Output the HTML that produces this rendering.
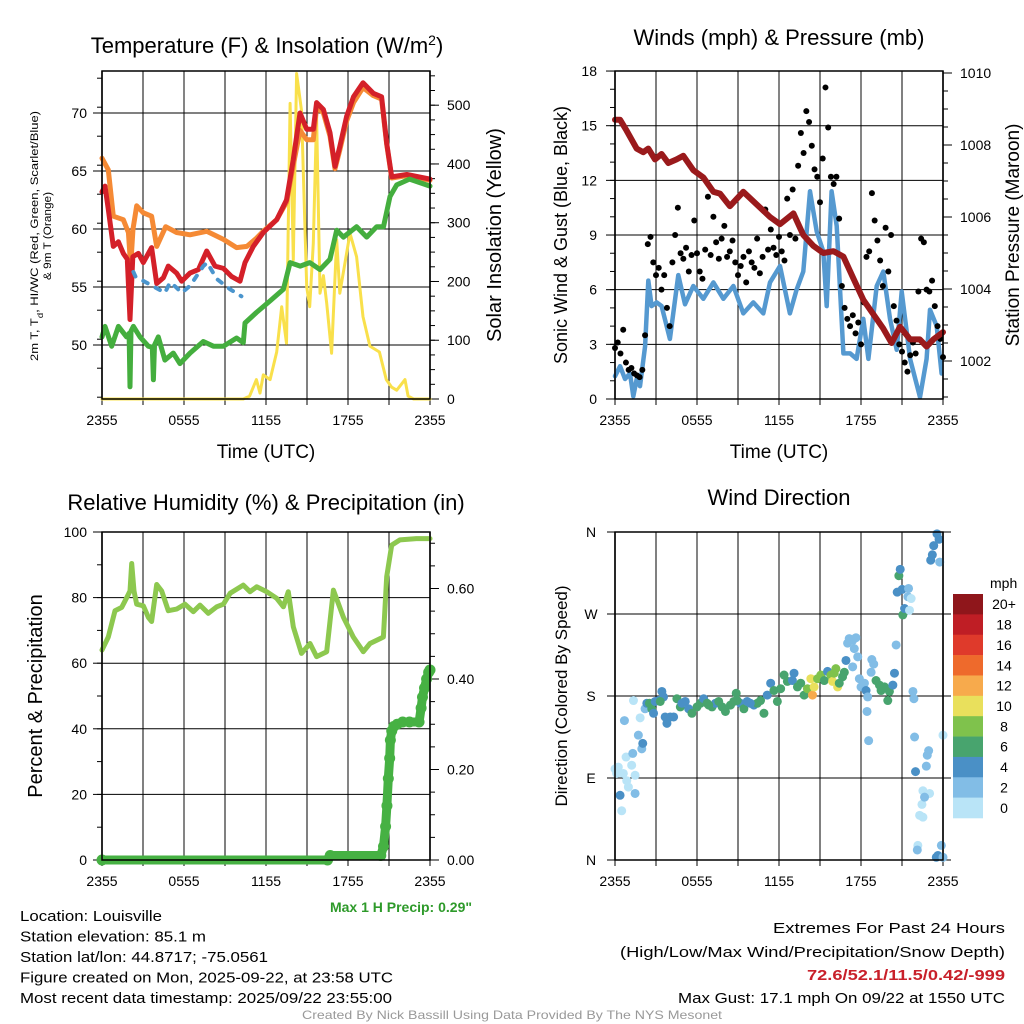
<!DOCTYPE html>
<html><head><meta charset="utf-8">
<style>
html,body{margin:0;padding:0;background:#fff;}
svg{display:block;font-family:"Liberation Sans",Arial,sans-serif;}
</style></head>
<body>
<svg id="fig" width="1024" height="1024" viewBox="0 0 1024 1024" xmlns="http://www.w3.org/2000/svg"></svg>
<script>
// ===== Panel 1: temperature (times in hours since 2355) =====
const tempT = [0,0.22,0.46,0.83,1.2,1.56,1.85,2.05,2.25,2.66,3.02,3.63,4.0,4.49,4.85,5.46,5.83,6.44,7.05,7.66,8.27,8.88,9.49,10.1,10.46,11.07,11.8,12.78,13.5,14.0,14.49,14.98,15.46,15.7,16.2,16.68,17.05,17.4,17.9,18.4,19.1,19.85,20.46,20.83,21.2,22.3,24];
const tempV = [63.2,63.7,61.7,58.5,58.9,57.9,57.4,52.2,57.6,57.9,57.1,58.4,55.3,55.8,56.8,56.2,55.5,56.2,56.5,58.1,56.8,56.6,55.9,55.5,57.1,58.5,59.7,60.8,62.5,66.0,70.0,68.6,68.6,70.9,70.3,68.3,65.4,67.1,69.7,71.4,72.6,71.7,71.4,67.4,64.5,64.7,64.3];
const t9T = [0,0.46,0.83,1.56,1.93,2.1,2.27,2.54,3.02,3.63,4.0,4.66,5.46,6.44,7.66,8.88,9.85,10.6,11.3,11.8,12.78,13.5,14.0,14.49,14.98,15.46,15.7,16.2,16.68,17.05,17.4,17.9,18.4,19.1,19.85,20.46,20.83,21.2,22.3,24];
const t9V = [66.1,65.1,61.1,60.8,59.7,56.8,60,62.0,61.4,61.1,58.5,60.2,59.7,59.5,59.8,59.1,58.4,58.5,59.2,59.8,60.8,62.3,65.5,68.5,67.7,67.7,70.5,70.0,68.0,65.2,66.8,69.3,70.9,72.2,71.5,71.2,67.3,64.4,64.6,64.2];
const dewT = [0,0.22,0.71,1.2,1.8,1.98,2.05,2.12,2.3,2.78,3.39,3.68,3.76,3.84,4.12,4.6,5.22,5.7,6.44,7.41,8.15,8.88,9.85,10.34,10.46,11.3,12.3,13.27,13.76,14.5,15.2,15.95,16.68,17.17,17.66,18.63,19.37,20.1,20.6,21.07,21.56,22.5,24];
const dewV = [50.7,51.6,49.9,51.6,50.7,51.0,46.4,51.2,51.6,50.7,49.9,49.8,47.0,50.0,50.7,48.7,49.3,48.4,49.3,50.3,49.9,49.9,50.6,50.2,51.9,52.8,53.8,54.8,57.1,56.8,57.1,56.5,57.4,59.9,59.3,60.2,59.3,60.2,60.2,62.8,63.8,64.3,63.7];
const wcT = [2.3,2.45,4.6,4.98,5.4,5.83,6.44,7.41,7.7,8.39,9.37,10.2];
const wcV = [56.3,55.9,54.5,55.4,55.0,54.5,55.1,56.8,57.1,55.7,54.8,54.2];
const solT = [0,10.34,10.8,11.3,11.56,11.8,12.3,12.78,13.15,13.5,13.76,14.0,14.24,14.6,14.98,15.2,15.46,15.7,15.95,16.2,16.44,16.8,17.17,17.4,17.9,18.15,18.63,19.1,19.6,20.3,20.8,21.2,21.56,22.17,22.4,22.8,24];
const solV = [0,0,5,33,10,41,33,80,157,95,503,237,554,491,191,157,265,480,180,210,163,78,271,180,248,282,242,140,90,80,33,20,15,33,5,0,0];
const tempTicks = [50,55,60,65,70];
const solTicks = [0,100,200,300,400,500];
const timeLabels = ["2355","0555","1155","1755","2355"];

// ===== Panel 2: winds & pressure =====
const presT = [0,0.37,0.85,1.59,2.07,2.44,2.93,3.41,3.9,4.51,5.0,5.73,6.46,7.2,7.68,8.41,9.39,10.37,11.34,12.07,13.05,13.78,14.51,15.24,15.98,16.71,17.44,18.17,18.9,19.63,20.24,20.85,21.59,22.3,22.8,23.3,24];
const presV = [1008.7,1008.7,1008.4,1007.9,1007.8,1007.9,1007.6,1007.75,1007.5,1007.6,1007.7,1007.3,1007.1,1006.7,1006.65,1006.3,1006.7,1006.35,1006.0,1005.8,1006.1,1005.5,1005.2,1005.0,1005.05,1004.9,1004.3,1003.7,1003.3,1002.9,1002.5,1002.95,1002.6,1002.6,1002.4,1002.6,1002.8];
const windT = [0,0.37,0.73,1.1,1.34,1.59,1.83,2.2,2.44,2.68,3.05,3.41,4.02,4.63,5.12,5.73,6.46,7.2,7.93,8.66,9.39,10.12,10.85,11.34,12.07,12.8,13.29,13.78,14.27,14.76,15.24,15.49,15.85,16.22,16.71,17.2,17.68,18.17,18.54,19.15,19.63,20.12,20.61,20.98,21.59,22.32,22.8,23.05,23.54,23.9];
const windV = [1.25,1.8,1.1,1.4,0.15,1.1,0.7,2.9,6.5,5.1,5.3,5.1,3.3,6.8,5.2,6.2,5.5,6.4,5.5,6.2,4.7,5.3,4.7,6.4,7.3,4.7,6.0,7.0,11.4,9.2,8.1,5.1,11.4,9.5,2.5,2.5,2.2,4.4,2.2,6.2,7.0,4.4,2.7,5.9,2.2,0.1,2.2,4.9,4.0,1.4];
const gustStep = 0.2;
const gustV = [2.8,3.1,2.5,3.8,2.0,1.6,1.7,1.4,1.3,1.2,1.6,
 3.5,8.5,8.9,7.5,6.8,7.2,6.0,6.8,5.0,4.0,
 7.5,9.0,10.5,8.0,7.7,8.3,7.0,7.9,9.8,8.0,
 7.0,6.6,8.2,11.1,7.9,10.0,8.6,7.7,8.8,9.5,
 7.8,8.1,8.7,7.5,6.8,7.3,7.8,6.4,8.1,7.5,
 7.2,8.8,6.9,7.8,10.4,8.2,9.3,8.3,7.9,8.9,
 8.1,7.6,11.0,9.0,11.5,8.8,12.8,14.6,13.5,15.8,
 15.2,13.9,12.6,12.2,10.8,13.2,17.1,14.9,12.2,11.8,
 12.2,9.9,6.2,5.0,4.4,4.0,4.6,3.6,4.2,3.0,
 5.3,7.8,8.1,11.3,9.8,8.7,7.6,6.2,9.4,7.0,
 9.0,5.1,4.3,3.0,2.6,2.0,1.5,2.4,3.1,2.5,
 5.9,8.8,8.6,6.0,5.9,6.5,5.1,4.0,3.3,2.3];
const windTicks = [0,3,6,9,12,15,18];
const presTicks = [1002,1004,1006,1008,1010];

// ===== Panel 3: RH & precip =====
const rhT = [0,0.46,0.95,1.44,1.93,2.05,2.17,2.34,2.54,3.02,3.39,3.63,4.0,4.37,4.85,5.46,6.07,6.68,7.17,7.78,8.39,8.88,9.37,10.34,10.83,11.32,12.05,12.78,13.27,13.63,14.0,14.6,15.22,15.7,16.44,16.93,17.66,18.39,19.12,19.61,20.59,20.83,21.2,21.8,23.0,24];
const rhV = [64,68,76,77,81,82,90.4,82,78,77.5,74,72.7,84,82,76,76.5,78,75.7,77.7,75.2,77.2,78,81.3,83.8,81.8,83.3,81.8,79.8,77.2,81.8,71.1,63,66,62,63.5,82.3,74,68,63.5,66,68,86.4,96,97.6,98,98];
const prT = [0,16.5,16.7,20.4,20.6,20.75,20.85,20.95,21.05,21.1,21.2,21.35,21.6,22.0,22.5,23.2,23.35,23.45,23.6,23.75,23.9,24];
const prV = [0,0,0.01,0.01,0.03,0.074,0.12,0.18,0.225,0.265,0.285,0.295,0.30,0.305,0.305,0.305,0.336,0.36,0.38,0.40,0.415,0.42];
const rhTicks = [0,20,40,60,80,100];
const prTicks = [0,0.2,0.4,0.6];

// ===== Panel 4: wind direction =====
const dirT = [0,0.12,0.37,0.49,0.24,0.61,0.86,0.98,1.22,1.47,1.47,0.81,0.69,1.3,1.71,1.84,1.96,2.03,2.2,1.35,2.33,2.52,2.69,2.82,2.94,3.18,3.43,3.55,3.67,3.8,4.04,4.29,4.53,4.78,5.14,5.39,5.63,6.0,6.25,6.49,6.74,7.1,7.35,7.59,7.84,8.08,8.45,8.69,8.87,9.18,9.43,9.67,10.16,10.41,10.65,10.9,11.14,11.39,11.63,11.88,12.12,12.37,12.61,12.98,13.1,13.35,13.59,13.84,14.08,14.33,14.45,14.57,14.82,15.06,15.31,15.55,15.8,15.92,16.04,16.16,16.29,16.41,16.65,16.78,16.9,17.02,17.14,17.39,17.63,17.51,17.76,17.39,17.88,18.0,18.25,18.37,18.49,18.44,18.56,18.79,18.93,18.74,19.1,19.35,19.47,19.72,19.96,20.08,20.33,20.45,20.57,20.65,20.77,20.87,21.01,21.06,21.19,21.43,21.48,21.67,21.55,21.8,21.87,21.92,21.99,22.29,22.53,22.46,22.53,23.02,22.65,22.78,22.85,22.95,22.16,22.12,23.88,23.51,23.63,24.0,24.0,23.1,23.22,23.32,23.56,23.71,23.76,3.31,4.9,6.86,8.94,9.9];
const dirDeg = [100,95,71,54,102,95,87,80,104,93,73,113,153,117,137,156,122,128,166,175,172,172,166,161,174,175,185,179,157,150,157,157,177,168,174,166,161,168,172,177,172,168,172,174,168,163,170,174,183,172,166,174,170,172,175,161,181,194,186,174,188,203,196,197,205,190,194,181,188,199,181,190,199,203,197,207,203,196,205,210,190,194,201,206,219,238,243,241,244,232,223,212,199,190,194,186,179,163,131,220,215,206,197,192,186,190,175,185,192,205,236,294,312,319,297,269,276,289,298,287,274,185,177,135,97,49,47,61,76,73,69,103,115,120,16,11,16,3,5,3,137,329,335,345,358,352,327,174,172,170,175,172];
const dirSpd = [1,1,5,1,1,1,1,1,1,1,3,1,3,3,3,1,3,5,3,1,5,7,7,5,5,5,5,5,5,5,5,5,7,7,5,5,7,7,7,5,7,7,5,7,7,7,7,7,7,5,7,5,5,7,7,7,5,5,7,7,7,7,7,5,5,7,7,7,9,11,13,11,9,9,7,5,9,11,9,9,11,7,7,7,5,3,3,3,3,3,3,3,3,3,3,5,3,3,3,3,3,3,7,7,7,7,7,7,5,5,3,5,7,5,5,7,5,3,3,1,1,3,3,3,5,1,1,1,1,1,3,3,3,3,1,3,3,5,5,3,1,5,5,5,5,5,3,7,5,7,7,5];
const cbLabels = ["20+","18","16","14","12","10","8","6","4","2","0"];
const cbColors = ["#8f161b","#bf1e25","#df3a2b","#ee6a2c","#f7aa4c","#e9e05c","#7fc24c","#48a46e","#4a90c6","#82bde6","#b9e4f7"];

// ===== rendering =====
const NS = "http://www.w3.org/2000/svg";
const svg = document.getElementById("fig");
function mk(tag, attrs, parent) {
  const e = document.createElementNS(NS, tag);
  for (const k in attrs) e.setAttribute(k, attrs[k]);
  (parent || svg).appendChild(e);
  return e;
}
function txt(s, attrs, parent) { const e = mk("text", attrs, parent); e.textContent = s; return e; }
function poly(ts, vs, xf, yf) {
  const pts = [];
  for (let i = 0; i < ts.length; i++) pts.push(xf(ts[i]).toFixed(1) + "," + yf(vs[i]).toFixed(1));
  return pts.join(" ");
}

const L = 102, R = 430, L2 = 615, R2 = 943;
const xA = t => L + t * (R - L) / 24;
const xB = t => L2 + t * (R2 - L2) / 24;
const yTemp = v => 113 + (70 - v) * 11.6;
const ySol = v => 399 - v * 0.5876;
const yWind = v => 399 - v * 18.22;
const yPres = p => 361 - (p - 1002) * 36;
const yRH = v => 860 - v * 3.28;
const yPr = p => 860 - p * 452.5;
const yDir = d => 860 - d * 328 / 360;

function frame(x0, x1, y0, y1, xf, name) {
  const g = mk("g", {});
  
  
  for (let h = 0; h <= 24; h += 3) {
    const x = xf(h);
    const lab = (h % 6 === 0);
    const ln = mk("line", {x1: x, x2: x, y1: y0, y2: y1, stroke: lab ? "#666" : "#000", "stroke-width": lab ? 1.6 : 1}, g);
    
    
    const tk = mk("line", {x1: x, x2: x, y1: y1, y2: y1 + 6, stroke: "#000", "stroke-width": 1}, g);
    
    
  }
  for (let i = 0; i < timeLabels.length; i++) {
    const t = txt(timeLabels[i], {x: xf(i * 6), y: y1 + 26, "font-size": 14, "text-anchor": "middle"}, g);
    
    
  }
  return g;
}
function hgrid(vals, yf, x0, x1, name) {
  for (const v of vals) {
    const ln = mk("line", {x1: x0, x2: x1, y1: yf(v), y2: yf(v), stroke: "#000", "stroke-width": 1});
    
    
  }
}
function ticks(x, from, to, step, yf, dir, len, name) {
  for (let v = from; v <= to + 1e-9; v += step) {
    const y = yf(v);
    const ln = mk("line", {x1: x, x2: x + dir * len, y1: y, y2: y, stroke: "#000", "stroke-width": 1});
    
    
  }
}
function border(x0, x1, y0, y1, name) {
  const r = mk("rect", {x: x0, y: y0, width: x1 - x0, height: y1 - y0, fill: "none", stroke: "#000", "stroke-width": 1.5});
  
  
}
function label(s, x, y, size, attrs, name) {
  const a = Object.assign({x: x, y: y, "font-size": size}, attrs || {});
  const t = txt(s, a);
  
  
  return t;
}
function vlabel(s, x, y, size, name, extra) {
  const a = Object.assign({x: 0, y: 0, "font-size": size, "text-anchor": "middle", transform: "translate(" + x + "," + y + ") rotate(-90)"}, extra || {});
  const t = txt(s, a);
  
  
  return t;
}
function line(ts, vs, xf, yf, color, w, name, extra) {
  const a = Object.assign({points: poly(ts, vs, xf, yf), fill: "none", stroke: color, "stroke-width": w, "stroke-linejoin": "round", "stroke-linecap": "round"}, extra || {});
  const p = mk("polyline", a);
  
  
  return p;
}

// ---------- Panel 1 ----------
{
  const t = label("Temperature (F) & Insolation (W/m", 267, 53, 22, {"text-anchor": "middle"}, "temperature-chart-title");
  const sup = mk("tspan", {"baseline-shift": "super", "font-size": 14}, t); sup.textContent = "2";
  const cl = mk("tspan", {}, t); cl.textContent = ")";
  frame(L, R, 71, 399, xA, "temperature");
  hgrid(tempTicks, yTemp, L, R, "temperature-gridline");
  ticks(L, 45.5, 73.5, 2.5, yTemp, -1, 5, "temperature-minor-tick");
  ticks(L, 50, 70, 5, yTemp, -1, 9, "temperature-major-tick");
  ticks(R, 0, 550, 25, ySol, 1, 5, "insolation-minor-tick");
  ticks(R, 0, 500, 100, ySol, 1, 9, "insolation-major-tick");
  for (const v of tempTicks) label(String(v), 87, yTemp(v) + 5, 14, {"text-anchor": "end"}, "temperature-tick-label");
  for (const v of solTicks) label(String(v), 447, ySol(v) + 5, 14, {}, "insolation-tick-label");
  line(solT, solV, xA, ySol, "#f9e04b", 3, "insolation-line-yellow");
  line(t9T, t9V, xA, yTemp, "#f58a35", 5, "temperature-9m-line-orange");
  line(tempT, tempV, xA, yTemp, "#d42029", 5, "temperature-2m-line-red");
  line(dewT, dewV, xA, yTemp, "#44ae3e", 5, "dewpoint-line-green");
  line(wcT, wcV, xA, yTemp, "#4b95cd", 4, "windchill-line-blue", {"stroke-dasharray": "5 9"});
  border(L, R, 71, 399, "temperature-plot-frame");
  label("Time (UTC)", 266, 458, 19, {"text-anchor": "middle"}, "temperature-x-axis-title");
  const yl = vlabel("2m T, T", 38, 236, 11, "temperature-y-axis-title", {textLength: 250, lengthAdjust: "spacingAndGlyphs"});
  const sub = mk("tspan", {"baseline-shift": "sub", "font-size": 8}, yl); sub.textContent = "d";
  const rest = mk("tspan", {}, yl); rest.textContent = ", HI/WC (Red, Green, Scarlet/Blue)";
  vlabel("& 9m T (Orange)", 51, 236, 11, "temperature-y-axis-title-line2", {textLength: 88, lengthAdjust: "spacingAndGlyphs"});
  vlabel("Solar Insolation (Yellow)", 501, 235, 20, "insolation-y-axis-title");
}

// ---------- Panel 2 ----------
{
  label("Winds (mph) & Pressure (mb)", 779, 45, 22, {"text-anchor": "middle"}, "winds-chart-title");
  frame(L2, R2, 71, 399, xB, "winds");
  hgrid(windTicks, yWind, L2, R2, "wind-gridline");
  ticks(L2, 0, 18, 1, yWind, -1, 5, "wind-minor-tick");
  ticks(L2, 0, 18, 3, yWind, -1, 9, "wind-major-tick");
  ticks(R2, 1001, 1010, 0.5, yPres, 1, 5, "pressure-minor-tick");
  ticks(R2, 1002, 1010, 2, yPres, 1, 9, "pressure-major-tick");
  for (const v of windTicks) label(String(v), 597, yWind(v) + 5, 14, {"text-anchor": "end"}, "wind-tick-label");
  for (const v of presTicks) label(String(v), 960, yPres(v) + 5, 14, {}, "pressure-tick-label");
  line(windT, windV, xB, yWind, "#5599d0", 4.5, "sonic-wind-line-blue");
  const gg = mk("g", {fill: "#000"});
  
  
  for (let i = 0; i < gustV.length; i++) {
    const c = mk("circle", {cx: xB(i * gustStep), cy: yWind(gustV[i]), r: 3}, gg);
    
    
  }
  line(presT, presV, xB, yPres, "#9a1a1c", 6, "pressure-line-maroon");
  border(L2, R2, 71, 399, "winds-plot-frame");
  label("Time (UTC)", 779, 458, 19, {"text-anchor": "middle"}, "winds-x-axis-title");
  vlabel("Sonic Wind & Gust (Blue, Black)", 567, 235, 18, "wind-y-axis-title");
  vlabel("Station Pressure (Maroon)", 1019, 235, 19, "pressure-y-axis-title");
}

// ---------- Panel 3 ----------
{
  label("Relative Humidity (%) & Precipitation (in)", 266, 510, 22, {"text-anchor": "middle"}, "humidity-chart-title");
  frame(L, R, 532, 860, xA, "humidity");
  hgrid(rhTicks, yRH, L, R, "humidity-gridline");
  ticks(L, 0, 100, 10, yRH, -1, 5, "humidity-minor-tick");
  ticks(L, 0, 100, 20, yRH, -1, 9, "humidity-major-tick");
  ticks(R, 0, 0.7, 0.05, yPr, 1, 5, "precip-minor-tick");
  ticks(R, 0, 0.6, 0.2, yPr, 1, 9, "precip-major-tick");
  for (const v of rhTicks) label(String(v), 87, yRH(v) + 5, 14, {"text-anchor": "end"}, "humidity-tick-label");
  for (const v of prTicks) label(v.toFixed(2), 447, yPr(v) + 5, 14, {}, "precip-tick-label");
  line(rhT, rhV, xA, yRH, "#8dc84f", 5, "humidity-line-green");
  line(prT, prV, xA, yPr, "#46b143", 9, "precip-line-green");
  for (let i = 0; i < prT.length; i++) {
    const c = mk("circle", {cx: xA(prT[i]), cy: yPr(prV[i]), r: 5.5, fill: "#46b143"});
    
    
  }
  border(L, R, 532, 860, "humidity-plot-frame");
  vlabel("Percent & Precipitation", 42, 696, 20, "humidity-y-axis-title");
  label("Max 1 H Precip: 0.29\"", 472, 912, 14, {"text-anchor": "end", fill: "#2e9a2a", "font-weight": "bold"}, "max-precip-note");
}

// ---------- Panel 4 ----------
{
  label("Wind Direction", 779, 505, 22, {"text-anchor": "middle"}, "wind-direction-chart-title");
  frame(L2, R2, 532, 860, xB, "direction");
  const dirTicks = [0, 90, 180, 270, 360];
  const dirNames = ["N", "E", "S", "W", "N"];
  hgrid(dirTicks, yDir, L2 - 8, R2 + 8, "direction-gridline");
  for (let i = 0; i < dirTicks.length; i++) label(dirNames[i], 591, yDir(dirTicks[i]) + 5, 14, {"text-anchor": "middle"}, "direction-tick-label");
  function spdColor(s) { const idx = Math.min(10, Math.floor(s / 2)); return cbColors[10 - idx]; }
  for (let i = 0; i < dirT.length; i++) {
    const c = mk("circle", {cx: xB(dirT[i]), cy: yDir(dirDeg[i]), r: 4.5, fill: spdColor(dirSpd[i])});
    
    
  }
  border(L2, R2, 532, 860, "direction-plot-frame");
  vlabel("Direction (Colored By Speed)", 567, 696, 17, "direction-y-axis-title");
  label("mph", 990, 588, 14, {}, "colorbar-unit-label");
  const bh = (818 - 594) / 11;
  for (let i = 0; i < cbLabels.length; i++) {
    const r = mk("rect", {x: 953, y: 594 + i * bh, width: 30, height: bh + 0.3, fill: cbColors[i]});
    
    
    label(cbLabels[i], 1004, 594 + i * bh + bh / 2 + 5, 14, {"text-anchor": "middle"}, "colorbar-label");
  }
}

// ---------- Footer ----------
{
  const left = ["Location: Louisville", "Station elevation: 85.1 m", "Station lat/lon: 44.8717; -75.0561", "Figure created on Mon, 2025-09-22, at 23:58 UTC", "Most recent data timestamp: 2025/09/22 23:55:00"];
  const widths = [142, 186, 248, 373, 372];
  for (let i = 0; i < left.length; i++) {
    label(left[i], 20, 921 + i * 20.5, 15, {textLength: widths[i], lengthAdjust: "spacingAndGlyphs"}, "station-info-line");
  }
  label("Extremes For Past 24 Hours", 1005, 933, 15, {"text-anchor": "end", textLength: 232, lengthAdjust: "spacingAndGlyphs"}, "extremes-heading");
  label("(High/Low/Max Wind/Precipitation/Snow Depth)", 1005, 957, 15, {"text-anchor": "end", textLength: 385, lengthAdjust: "spacingAndGlyphs"}, "extremes-subheading");
  label("72.6/52.1/11.5/0.42/-999", 1005, 980, 15, {"text-anchor": "end", fill: "#c8202a", "font-weight": "bold", textLength: 198, lengthAdjust: "spacingAndGlyphs"}, "extremes-values");
  label("Max Gust: 17.1 mph On 09/22 at 1550 UTC", 1005, 1003, 15, {"text-anchor": "end", textLength: 327, lengthAdjust: "spacingAndGlyphs"}, "max-gust-note");
  label("Created By Nick Bassill Using Data Provided By The NYS Mesonet", 512, 1019, 12, {"text-anchor": "middle", fill: "#999", textLength: 420, lengthAdjust: "spacingAndGlyphs"}, "credits-footer");
}
</script>
</body></html>
